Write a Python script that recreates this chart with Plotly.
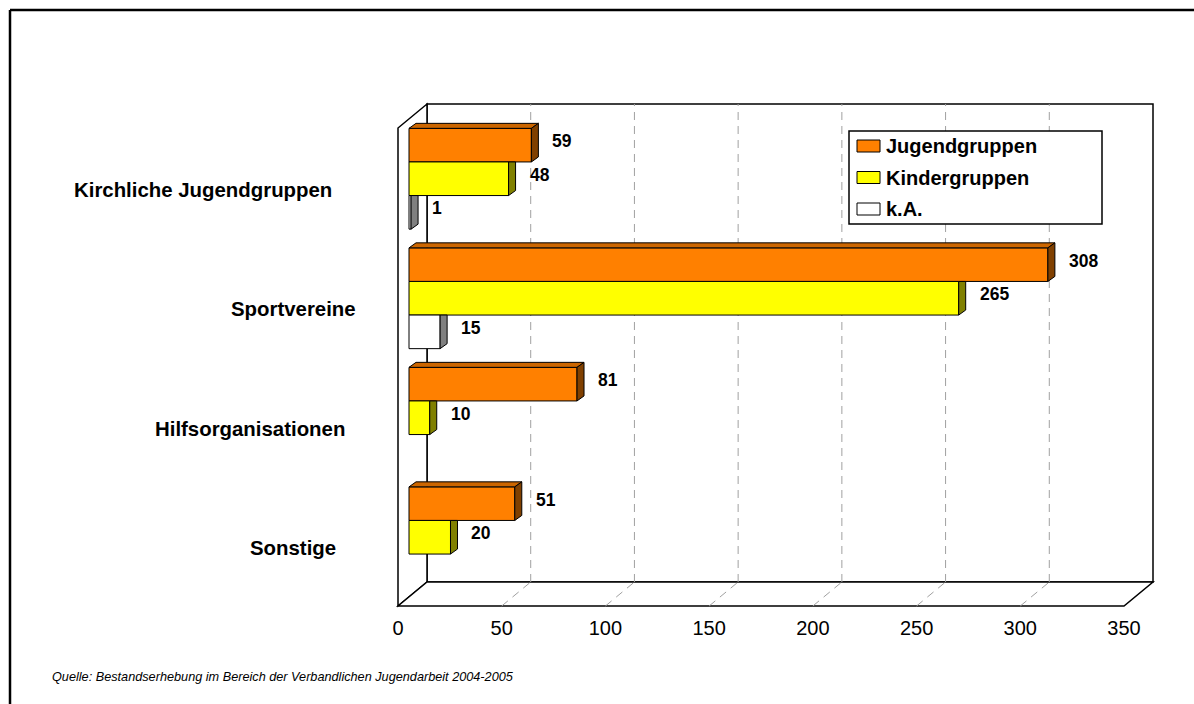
import plotly.graph_objects as go

# ---- data -------------------------------------------------------------
categories = ["Kirchliche Jugendgruppen", "Sportvereine", "Hilfsorganisationen", "Sonstige"]
series_names = ["Jugendgruppen", "Kindergruppen", "k.A."]
jugendgruppen = [59, 308, 81, 51]
kindergruppen = [48, 265, 10, 20]
keine_angabe = [1, 15, None, None]
x_ticks = [0, 50, 100, 150, 200, 250, 300, 350]
source_note = "Quelle: Bestandserhebung im Bereich der Verbandlichen Jugendarbeit 2004-2005"

series_values = [jugendgruppen, kindergruppen, keine_angabe]

# ---- styles -----------------------------------------------------------
FONT = "Arial, 'Liberation Sans', sans-serif"
front_colors = ["#FF8000", "#FFFF00", "#FFFFFF"]
top_colors = ["#CC6600", "#CCCC00", "#C0C0C0"]
side_colors = ["#804000", "#808000", "#808080"]
GRID_COLOR = "#A0A0A0"

# ---- page geometry (pixels) --------------------------------------------
FIG_W, FIG_H = 1194, 704
PL, PR, PT, PB = 390, 1165, 95, 614          # plot area
FRONT_X0 = 398                               # value 0 on the front plane
FRONT_YB = 606                               # front edge of the floor
PX_PER_UNIT = 726 / 350
PX_PER_CAT = 119.5
X_MAX = x_ticks[-1]

x_lo = -(FRONT_X0 - PL) / PX_PER_UNIT
x_hi = x_lo + (PR - PL) / PX_PER_UNIT
y_lo = -0.5 - (PB - FRONT_YB) / PX_PER_CAT
y_hi = y_lo + (PB - PT) / PX_PER_CAT

# depth offsets of the 3-D box, the bar plane and the bar thickness (axis units)
WX, WY = 29 / PX_PER_UNIT, 24 / PX_PER_CAT
BX, BY = 11 / PX_PER_UNIT, 9 / PX_PER_CAT
DX, DY = 7 / PX_PER_UNIT, 5 / PX_PER_CAT
BAR_W = 33.6 / PX_PER_CAT

ncat = len(categories)
cat_pos = [ncat - 1 - i for i in range(ncat)]   # first category on top
Y_BOT, Y_TOP = -0.5, ncat - 0.5


def px_x(px):
    return (px - PL) / (PR - PL)


def px_y(py):
    return (PB - py) / (PB - PT)


def path(pts):
    return "M " + " L ".join(f"{x:.4f},{y:.4f}" for x, y in pts) + " Z"


shapes = []
wall_line = dict(color="black", width=1.5)
# back wall, side wall and floor
shapes.append(dict(type="rect", xref="x", yref="y", layer="below",
                   x0=WX, x1=X_MAX + WX, y0=Y_BOT + WY, y1=Y_TOP + WY,
                   line=wall_line, fillcolor="white"))
shapes.append(dict(type="path", xref="x", yref="y", layer="below",
                   path=path([(0, Y_BOT), (0, Y_TOP), (WX, Y_TOP + WY), (WX, Y_BOT + WY)]),
                   line=wall_line, fillcolor="white"))
shapes.append(dict(type="path", xref="x", yref="y", layer="below",
                   path=path([(0, Y_BOT), (X_MAX, Y_BOT), (X_MAX + WX, Y_BOT + WY), (WX, Y_BOT + WY)]),
                   line=wall_line, fillcolor="white"))
# dashed gridlines on the back wall and the floor
for t in x_ticks[1:-1]:
    shapes.append(dict(type="line", xref="x", yref="y", layer="below",
                       x0=t + WX, x1=t + WX, y0=Y_BOT + WY, y1=Y_TOP + WY,
                       line=dict(color=GRID_COLOR, width=1, dash="8px,6px")))
    shapes.append(dict(type="line", xref="x", yref="y", layer="below",
                       x0=t, x1=t + WX, y0=Y_BOT, y1=Y_BOT + WY,
                       line=dict(color=GRID_COLOR, width=1, dash="8px,6px")))

fig = go.Figure()
annotations = []
face_traces = []

for j, (name, vals) in enumerate(zip(series_names, series_values)):
    offset = BY + 1.5 * BAR_W - (j + 1) * BAR_W
    fig.add_trace(go.Bar(
        name=name, orientation="h", y=cat_pos, x=vals, base=BX,
        width=BAR_W, offset=offset,
        marker=dict(color=front_colors[j], line=dict(color="black", width=1)),
        showlegend=False,
    ))
    for i, v in enumerate(vals):
        if v is None:
            continue
        yb = cat_pos[i] + offset
        yt = yb + BAR_W
        xe = BX + v
        upper = series_values[j - 1][i] if j > 0 else None
        covered = upper is not None and upper >= v + DX
        if not covered:
            pts = [(BX, yt), (xe, yt), (xe + DX, yt + DY), (BX + DX, yt + DY), (BX, yt)]
            face_traces.append((pts, top_colors[j]))
        side_top = yt if covered else yt + DY
        pts = [(xe, yb), (xe + DX, yb + DY), (xe + DX, side_top), (xe, yt), (xe, yb)]
        face_traces.append((pts, side_colors[j]))
        annotations.append(dict(
            x=xe, y=yb + BAR_W / 2, xref="x", yref="y", text=f"<b>{v}</b>",
            showarrow=False, xanchor="left", yanchor="middle", xshift=19, yshift=4,
            font=dict(family=FONT, size=17.5, color="black")))

for pts, col in face_traces:
    fig.add_trace(go.Scatter(
        x=[p[0] for p in pts], y=[p[1] for p in pts], mode="lines", fill="toself",
        fillcolor=col, line=dict(color="black", width=1), hoverinfo="skip",
        showlegend=False))

# category labels
LABEL_RIGHT_PX = [334, 358, 347, 338]
for c, pos, rx in zip(categories, cat_pos, LABEL_RIGHT_PX):
    annotations.append(dict(
        x=px_x(rx), y=pos, xref="paper", yref="y", text=f"<b>{c}</b>",
        showarrow=False, xanchor="right", yanchor="middle", yshift=-2,
        font=dict(family=FONT, size=20.4, color="black")))

# legend box
LEG_L, LEG_T, LEG_R, LEG_B = 849, 131, 1102, 224
shapes.append(dict(type="rect", xref="paper", yref="paper",
                   x0=px_x(LEG_L), x1=px_x(LEG_R), y0=px_y(LEG_B), y1=px_y(LEG_T),
                   line=dict(color="black", width=1.5), fillcolor="white"))
for j, name in enumerate(series_names):
    cy = 146 + j * 31.5
    shapes.append(dict(type="rect", xref="paper", yref="paper",
                       x0=px_x(857), x1=px_x(880), y0=px_y(cy + 6), y1=px_y(cy - 6),
                       line=dict(color="black", width=1), fillcolor=front_colors[j]))
    annotations.append(dict(
        x=px_x(884), y=px_y(cy), xref="paper", yref="paper", text=f"<b>{name}</b>",
        showarrow=False, xanchor="left", yanchor="middle",
        font=dict(family=FONT, size=20, color="black")))

# source note
annotations.append(dict(
    x=px_x(50), y=px_y(677), xref="paper", yref="paper", text=source_note,
    showarrow=False, xanchor="left", yanchor="middle",
    font=dict(family=FONT, size=12.7, color="black", style="italic")))

# outer frame (top and left edges)
shapes.append(dict(type="line", xref="paper", yref="paper",
                   x0=px_x(10), x1=px_x(FIG_W + 5), y0=px_y(10), y1=px_y(10),
                   line=dict(color="black", width=2.5)))
shapes.append(dict(type="line", xref="paper", yref="paper",
                   x0=px_x(10), x1=px_x(10), y0=px_y(10), y1=px_y(FIG_H + 5),
                   line=dict(color="black", width=2.5)))

fig.update_layout(
    width=FIG_W, height=FIG_H,
    margin=dict(l=PL, r=FIG_W - PR, t=PT, b=FIG_H - PB, pad=0),
    paper_bgcolor="white", plot_bgcolor="white",
    barmode="overlay",
    showlegend=False,
    shapes=shapes,
    annotations=annotations,
    xaxis=dict(range=[x_lo, x_hi], tickvals=x_ticks, ticktext=[str(t) for t in x_ticks],
               showgrid=False, zeroline=False, showline=False, ticks="",
               tickfont=dict(family=FONT, size=20, color="black"), fixedrange=True),
    yaxis=dict(range=[y_lo, y_hi], showgrid=False, zeroline=False, showline=False,
               showticklabels=False, fixedrange=True),
)

fig.write_html("out.html")
